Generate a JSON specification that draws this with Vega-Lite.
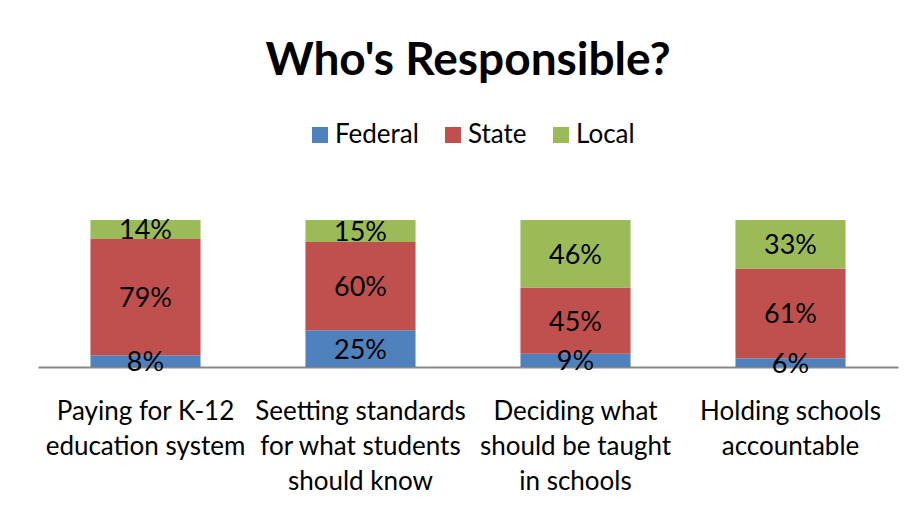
{
  "$schema": "https://vega.github.io/schema/vega-lite/v6.json",
  "width": 860,
  "height": 147,
  "autosize": {"type": "none"},
  "padding": {"left": 38, "top": 220, "right": 19, "bottom": 153},
  "background": "white",
  "config": {"font": "Lato", "view": {"stroke": null}},
  "title": {
    "text": "Who's Responsible?",
    "font": "Lato",
    "fontSize": 46,
    "fontWeight": "bold",
    "color": "black",
    "anchor": "middle",
    "offset": 37
  },
  "data": {
    "values": [
      {"category": "Paying for K-12|education system", "type": "Federal", "value": 0.08},
      {"category": "Paying for K-12|education system", "type": "State", "value": 0.79},
      {"category": "Paying for K-12|education system", "type": "Local", "value": 0.14},
      {"category": "Seetting standards|for what students|should know", "type": "Federal", "value": 0.25},
      {"category": "Seetting standards|for what students|should know", "type": "State", "value": 0.60},
      {"category": "Seetting standards|for what students|should know", "type": "Local", "value": 0.15},
      {"category": "Deciding what|should be taught|in schools", "type": "Federal", "value": 0.09},
      {"category": "Deciding what|should be taught|in schools", "type": "State", "value": 0.45},
      {"category": "Deciding what|should be taught|in schools", "type": "Local", "value": 0.46},
      {"category": "Holding schools|accountable", "type": "Federal", "value": 0.06},
      {"category": "Holding schools|accountable", "type": "State", "value": 0.61},
      {"category": "Holding schools|accountable", "type": "Local", "value": 0.33}
    ]
  },
  "transform": [
    {"calculate": "indexof(['Federal','State','Local'], datum.type)", "as": "k"},
    {"stack": "value", "groupby": ["category"], "sort": [{"field": "k", "order": "ascending"}], "as": ["v0", "v1"]},
    {"calculate": "(datum.v0 + datum.v1) / 2", "as": "mid"}
  ],
  "encoding": {
    "x": {
      "field": "category",
      "type": "nominal",
      "sort": null,
      "scale": {"paddingInner": 0.488, "paddingOuter": 0.244},
      "axis": {
        "title": null,
        "labelExpr": "split(datum.label, '|')",
        "ticks": false,
        "domainColor": "#888888",
        "domainWidth": 2,
        "labelFont": "Lato",
        "labelFontSize": 26,
        "labelColor": "black",
        "labelPadding": 31,
        "labelLineHeight": 35,
        "labelAngle": 0,
        "labelLimit": 400
      }
    }
  },
  "layer": [
    {
      "mark": {"type": "bar", "clip": true},
      "encoding": {
        "y": {"field": "v0", "type": "quantitative", "scale": {"domain": [0, 1]}, "axis": null},
        "y2": {"field": "v1"},
        "color": {
          "field": "type",
          "type": "nominal",
          "scale": {"domain": ["Federal", "State", "Local"], "range": ["#4F81BD", "#C0504D", "#9BBB59"]},
          "legend": {
            "orient": "none",
            "legendX": 269,
            "legendY": -98,
            "direction": "horizontal",
            "title": null,
            "symbolType": "square",
            "symbolSize": 256,
            "symbolStrokeWidth": 0,
            "labelFont": "Lato",
            "labelFontSize": 26,
            "labelColor": "black",
            "labelOffset": 2,
            "columnPadding": 21
          }
        }
      }
    },
    {
      "mark": {"type": "text", "fontSize": 27, "color": "black", "font": "Lato", "dy": 2},
      "encoding": {
        "y": {"field": "mid", "type": "quantitative"},
        "text": {"field": "value", "type": "quantitative", "format": ".0%"}
      }
    }
  ]
}
